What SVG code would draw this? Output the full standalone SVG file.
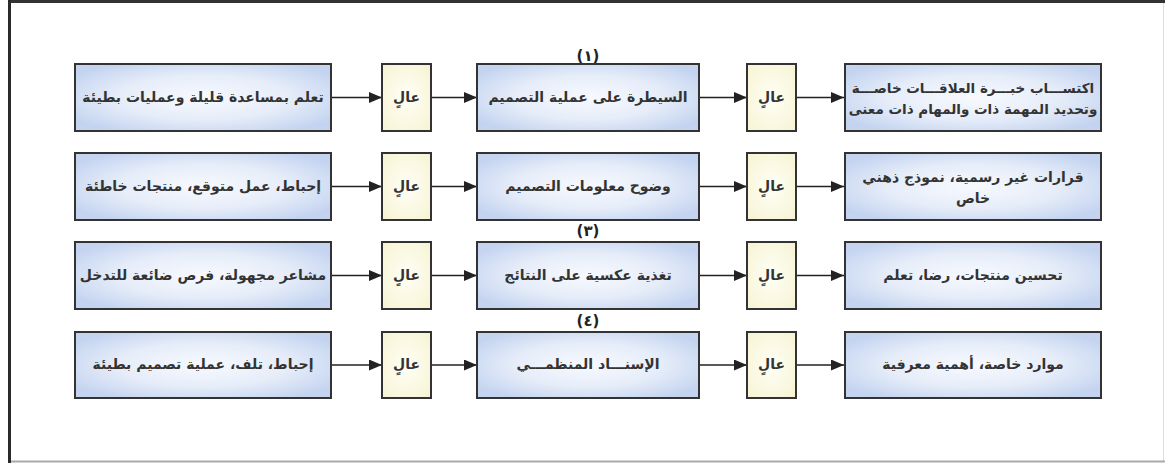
<svg xmlns="http://www.w3.org/2000/svg" width="1165" height="463" viewBox="0 0 1165 463">
<defs>
<radialGradient id="gb" cx="50%" cy="50%" r="60%">
<stop offset="0" stop-color="#f7f9fe"/>
<stop offset="0.55" stop-color="#e6edf9"/>
<stop offset="1" stop-color="#c4d4f0"/>
</radialGradient>
<radialGradient id="gy" cx="50%" cy="50%" r="70%">
<stop offset="0" stop-color="#fffff6"/>
<stop offset="1" stop-color="#f6f3d2"/>
</radialGradient>
<marker id="ah" viewBox="0 0 13 11" refX="13" refY="5.5" markerWidth="13" markerHeight="11" markerUnits="userSpaceOnUse" orient="auto">
<path d="M0,0 L13,5.5 L0,11 Z" fill="#222"/>
</marker>
<style>
.b{fill:url(#gb);stroke:#333;stroke-width:2}
.y{fill:url(#gy);stroke:#333;stroke-width:2}
.t{font-family:"DejaVu Sans",sans-serif;font-weight:bold;font-size:14px;fill:#333;text-anchor:middle;direction:rtl}
.s{font-size:13.5px}
.n{font-family:"DejaVu Sans",sans-serif;font-weight:bold;font-size:15px;fill:#222;text-anchor:middle}
.c{stroke:#222;stroke-width:1.6;fill:none;marker-end:url(#ah)}
</style>
</defs>
<rect x="0" y="0" width="1165" height="463" fill="#fff"/>
<g id="frame">
<line x1="8" y1="1.5" x2="1165" y2="1.5" stroke="#333" stroke-width="3"/>
<line x1="9.5" y1="0" x2="9.5" y2="463" stroke="#2a2a2a" stroke-width="3"/>
<line x1="1163.5" y1="3" x2="1163.5" y2="461" stroke="#ddd" stroke-width="1"/>
<line x1="11" y1="461.5" x2="1165" y2="461.5" stroke="#aaa" stroke-width="2"/>
</g>
<g id="labels">
<text class="n" x="588" y="61">(١)</text>
<text class="n" x="588" y="236">(٣)</text>
<text class="n" x="588" y="326">(٤)</text>
</g>
<g id="connectors">
<line class="c" x1="332" y1="97.5" x2="382" y2="97.5"/>
<line class="c" x1="431" y1="97.5" x2="477" y2="97.5"/>
<line class="c" x1="699" y1="97.5" x2="747" y2="97.5"/>
<line class="c" x1="796" y1="97.5" x2="844" y2="97.5"/>
<line class="c" x1="332" y1="186.5" x2="382" y2="186.5"/>
<line class="c" x1="431" y1="186.5" x2="477" y2="186.5"/>
<line class="c" x1="699" y1="186.5" x2="747" y2="186.5"/>
<line class="c" x1="796" y1="186.5" x2="844" y2="186.5"/>
<line class="c" x1="332" y1="275.5" x2="382" y2="275.5"/>
<line class="c" x1="431" y1="275.5" x2="477" y2="275.5"/>
<line class="c" x1="699" y1="275.5" x2="747" y2="275.5"/>
<line class="c" x1="796" y1="275.5" x2="844" y2="275.5"/>
<line class="c" x1="332" y1="365" x2="382" y2="365"/>
<line class="c" x1="431" y1="365" x2="477" y2="365"/>
<line class="c" x1="699" y1="365" x2="747" y2="365"/>
<line class="c" x1="796" y1="365" x2="844" y2="365"/>
</g>
<g id="r1-left"><rect class="b" x="75" y="64" width="256" height="67"/><text class="t" x="203" y="102">تعلم بمساعدة قليلة وعمليات بطيئة</text></g>
<g id="r1-high1"><rect class="y" x="382" y="64" width="49" height="67"/><text class="t" x="406.5" y="102">عالٍ</text></g>
<g id="r1-mid"><rect class="b" x="477" y="64" width="222" height="67"/><text class="t" x="588" y="102">السيطرة على عملية التصميم</text></g>
<g id="r1-high2"><rect class="y" x="747" y="64" width="49" height="67"/><text class="t" x="771.5" y="102">عالٍ</text></g>
<g id="r1-right"><rect class="b" x="845" y="64" width="256" height="67"/><text class="t s" x="973" y="93">اكتســـاب خبـــرة العلاقـــات خاصـــة</text><text class="t s" x="973" y="114">وتحديد المهمة ذات والمهام ذات معنى</text></g>

<g id="r2-left"><rect class="b" x="75" y="153" width="256" height="67"/><text class="t" x="203" y="191">إحباط، عمل متوقع، منتجات خاطئة</text></g>
<g id="r2-high1"><rect class="y" x="382" y="153" width="49" height="67"/><text class="t" x="406.5" y="191">عالٍ</text></g>
<g id="r2-mid"><rect class="b" x="477" y="153" width="222" height="67"/><text class="t" x="588" y="191">وضوح معلومات التصميم</text></g>
<g id="r2-high2"><rect class="y" x="747" y="153" width="49" height="67"/><text class="t" x="771.5" y="191">عالٍ</text></g>
<g id="r2-right"><rect class="b" x="845" y="153" width="256" height="67"/><text class="t" x="973" y="182">قرارات غير رسمية، نموذج ذهني</text><text class="t" x="973" y="203">خاص</text></g>

<g id="r3-left"><rect class="b" x="75" y="242" width="256" height="67"/><text class="t" x="203" y="280">مشاعر مجهولة، فرص ضائعة للتدخل</text></g>
<g id="r3-high1"><rect class="y" x="382" y="242" width="49" height="67"/><text class="t" x="406.5" y="280">عالٍ</text></g>
<g id="r3-mid"><rect class="b" x="477" y="242" width="222" height="67"/><text class="t" x="588" y="280">تغذية عكسية على النتائج</text></g>
<g id="r3-high2"><rect class="y" x="747" y="242" width="49" height="67"/><text class="t" x="771.5" y="280">عالٍ</text></g>
<g id="r3-right"><rect class="b" x="845" y="242" width="256" height="67"/><text class="t" x="973" y="280">تحسين منتجات، رضا، تعلم</text></g>

<g id="r4-left"><rect class="b" x="75" y="332" width="256" height="66"/><text class="t" x="203" y="369">إحباط، تلف، عملية تصميم بطيئة</text></g>
<g id="r4-high1"><rect class="y" x="382" y="332" width="49" height="66"/><text class="t" x="406.5" y="369">عالٍ</text></g>
<g id="r4-mid"><rect class="b" x="477" y="332" width="222" height="66"/><text class="t" x="588" y="369">الإسنـــاد المنظمـــي</text></g>
<g id="r4-high2"><rect class="y" x="747" y="332" width="49" height="66"/><text class="t" x="771.5" y="369">عالٍ</text></g>
<g id="r4-right"><rect class="b" x="845" y="332" width="256" height="66"/><text class="t" x="973" y="369">موارد خاصة، أهمية معرفية</text></g>
</svg>
